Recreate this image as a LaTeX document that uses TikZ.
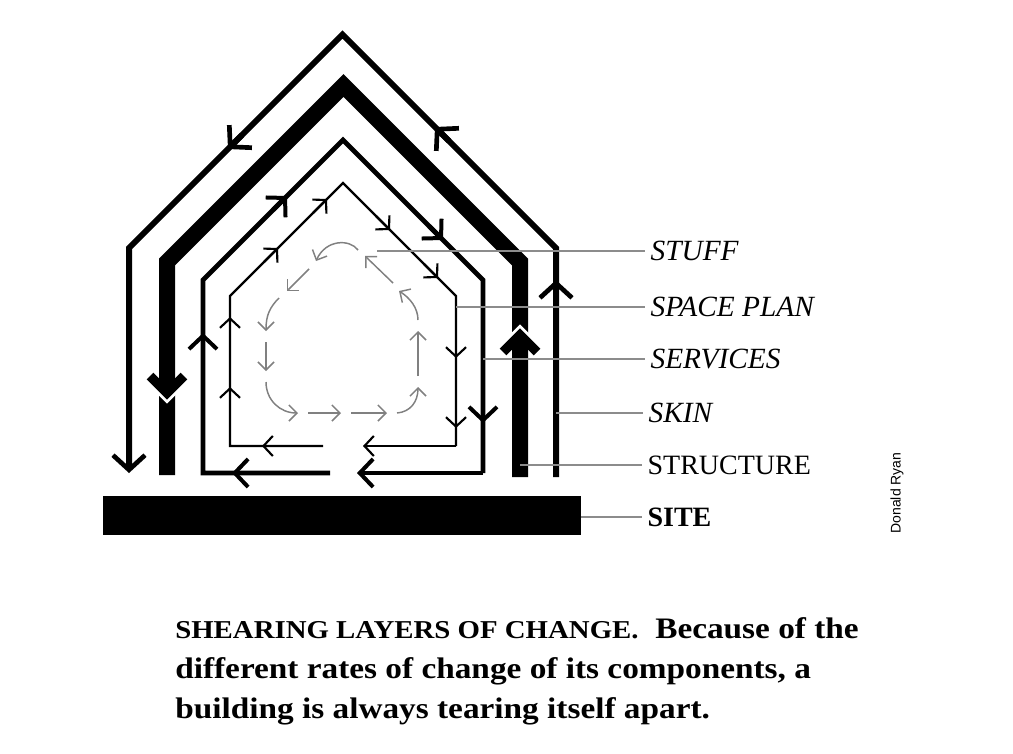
\documentclass[tikz,border=0pt]{standalone}
\usepackage{fontspec}
\setmainfont{Liberation Serif}
\newfontfamily\creditfont{Liberation Sans}
\newfontfamily\captionfont[FakeStretch=1.12]{Liberation Serif}
\usetikzlibrary{arrows.meta}

\begin{document}
\begin{tikzpicture}[x=0.75pt, y=-0.75pt,
  skin/.style={line width=4.5pt},
  structure/.style={line width=12pt},
  services/.style={line width=3.6pt},
  spaceplan/.style={line width=1.8pt},
  stuff/.style={black!50, line width=1.1pt, -{Straight Barb[sharp, length=6pt, width=12pt, line width=1.1pt]}},
  skinhead/.style={-{Straight Barb[sharp, length=11pt, width=24pt, line width=3.5pt]}},
  serviceshead/.style={-{Straight Barb[sharp, length=10pt, width=21pt, line width=3pt]}},
  spacehead/.style={-{Straight Barb[sharp, length=7pt, width=15pt, line width=1.6pt]}},
  chevron/.style={line width=7pt},
  leader/.style={black!45, line width=1pt},
  lbl/.style={anchor=west, inner xsep=4pt, font=\fontsize{21}{24}\selectfont},
  itlbl/.style={lbl, font=\itshape\fontsize{22}{24}\selectfont},
  caption/.style={anchor=base west, inner sep=0pt, font=\captionfont\bfseries\fontsize{22.3}{26}\selectfont}]
  \useasboundingbox (0,0) rectangle (1013,753);

  % site
  \fill (103,496) rectangle (581,535);
  \coordinate (sitept) at (581,517);

  % skin
  \draw[skin, skinhead] (556,477) -- (556,248) -- (342.5,34.5) -- (129,248) -- (129,473);
  \draw[skin, skinhead] (556,300) -- (556,280);
  \draw[skin, skinhead] (449,141) -- (435,127);
  \draw[skin, skinhead] (242,135) -- (228,149);
  \coordinate (skinpt) at (556,413);

  % structure
  \draw[structure] (520,477) -- (520,262) -- (343.5,85.5) -- (167,262) -- (167,475);
  \draw[chevron, white] (150,380) -- (167,397) -- (184,380);
  \draw[chevron] (150,376) -- (167,393) -- (184,376);
  \draw[chevron, white] (503,348) -- (520,331) -- (537,348);
  \draw[chevron] (503,352) -- (520,335) -- (537,352);
  \coordinate (structurept) at (520,465);

  % services
  \draw[services] (330,473) -- (203,473) -- (203,280) -- (343,140) -- (483,280) -- (483,473);
  \draw[services, serviceshead] (483,473) -- (357,473);
  \draw[services, serviceshead] (203,353) -- (203,333);
  \draw[services, serviceshead] (273,210) -- (287,196);
  \draw[services, serviceshead] (429,226) -- (443,240);
  \draw[services, serviceshead] (483,403) -- (483,423);
  \draw[services, serviceshead] (252,473) -- (232,473);
  \coordinate (servicespt) at (483,359);

  % space plan
  \draw[spaceplan] (323,446) -- (230,446) -- (230,296) -- (343,183) -- (456,296) -- (456,446);
  \draw[spaceplan, spacehead] (456,446) -- (363,446);
  \draw[spaceplan, spacehead] (282,446) -- (262,446);
  \draw[spaceplan, spacehead] (230,407) -- (230,387);
  \draw[spaceplan, spacehead] (230,337) -- (230,317);
  \draw[spaceplan, spacehead] (264,262) -- (278,248);
  \draw[spaceplan, spacehead] (313,213) -- (327,199);
  \draw[spaceplan, spacehead] (376,216) -- (390,230);
  \draw[spaceplan, spacehead] (424,264) -- (438,278);
  \draw[spaceplan, spacehead] (456,338) -- (456,358);
  \draw[spaceplan, spacehead] (456,408) -- (456,428);
  \coordinate (spacept) at (456,307);

  % stuff
  \draw[stuff] (358,250) .. controls (350,239) and (326,239) .. (316,261);
  \draw[stuff] (309,269) -- (287,291);
  \draw[stuff] (279,298) .. controls (270,307) and (266,315) .. (266,331);
  \draw[stuff] (266,342) -- (266,371);
  \draw[stuff] (266,382) .. controls (266,400) and (280,413) .. (298,413);
  \draw[stuff] (308,413) -- (341,413);
  \draw[stuff] (351,413) -- (387,413);
  \draw[stuff] (397,413) .. controls (410,412) and (418,402) .. (418,387);
  \draw[stuff] (418,376) -- (418,331);
  \draw[stuff] (418,320) .. controls (418,308) and (410,298) .. (399,291);
  \draw[stuff] (393,283) -- (365,256);
  \coordinate (stuffpt) at (377,251);

  % labels
  \node[itlbl] (stufflbl) at (645,251) {STUFF};
  \node[itlbl] (spacelbl) at (645,307) {SPACE PLAN};
  \node[itlbl] (serviceslbl) at (645,359) {SERVICES};
  \node[itlbl] (skinlbl) at (643,413) {SKIN};
  \node[lbl] (structurelbl) at (642,465) {STRUCTURE};
  \node[lbl] (sitelbl) at (642,517) {\bfseries SITE};
  \draw[leader] (stuffpt) -- (stufflbl.west);
  \draw[leader] (spacept) -- (spacelbl.west);
  \draw[leader] (servicespt) -- (serviceslbl.west);
  \draw[leader] (skinpt) -- (skinlbl.west);
  \draw[leader] (structurept) -- (structurelbl.west);
  \draw[leader] (sitept) -- (sitelbl.west);

  \node[rotate=90, font=\creditfont\fontsize{10.5}{12}\selectfont] (credit) at (897,493) {Donald Ryan};

  % caption
  \node[caption] (cap1) at (175,638) {{\fontsize{19.3}{26}\selectfont SHEARING LAYERS OF CHANGE.}\ \ Because of the};
  \node[caption] (cap2) at (175,678) {different rates of change of its components, a};
  \node[caption] (cap3) at (175,718) {building is always tearing itself apart.};
\end{tikzpicture}
\end{document}
